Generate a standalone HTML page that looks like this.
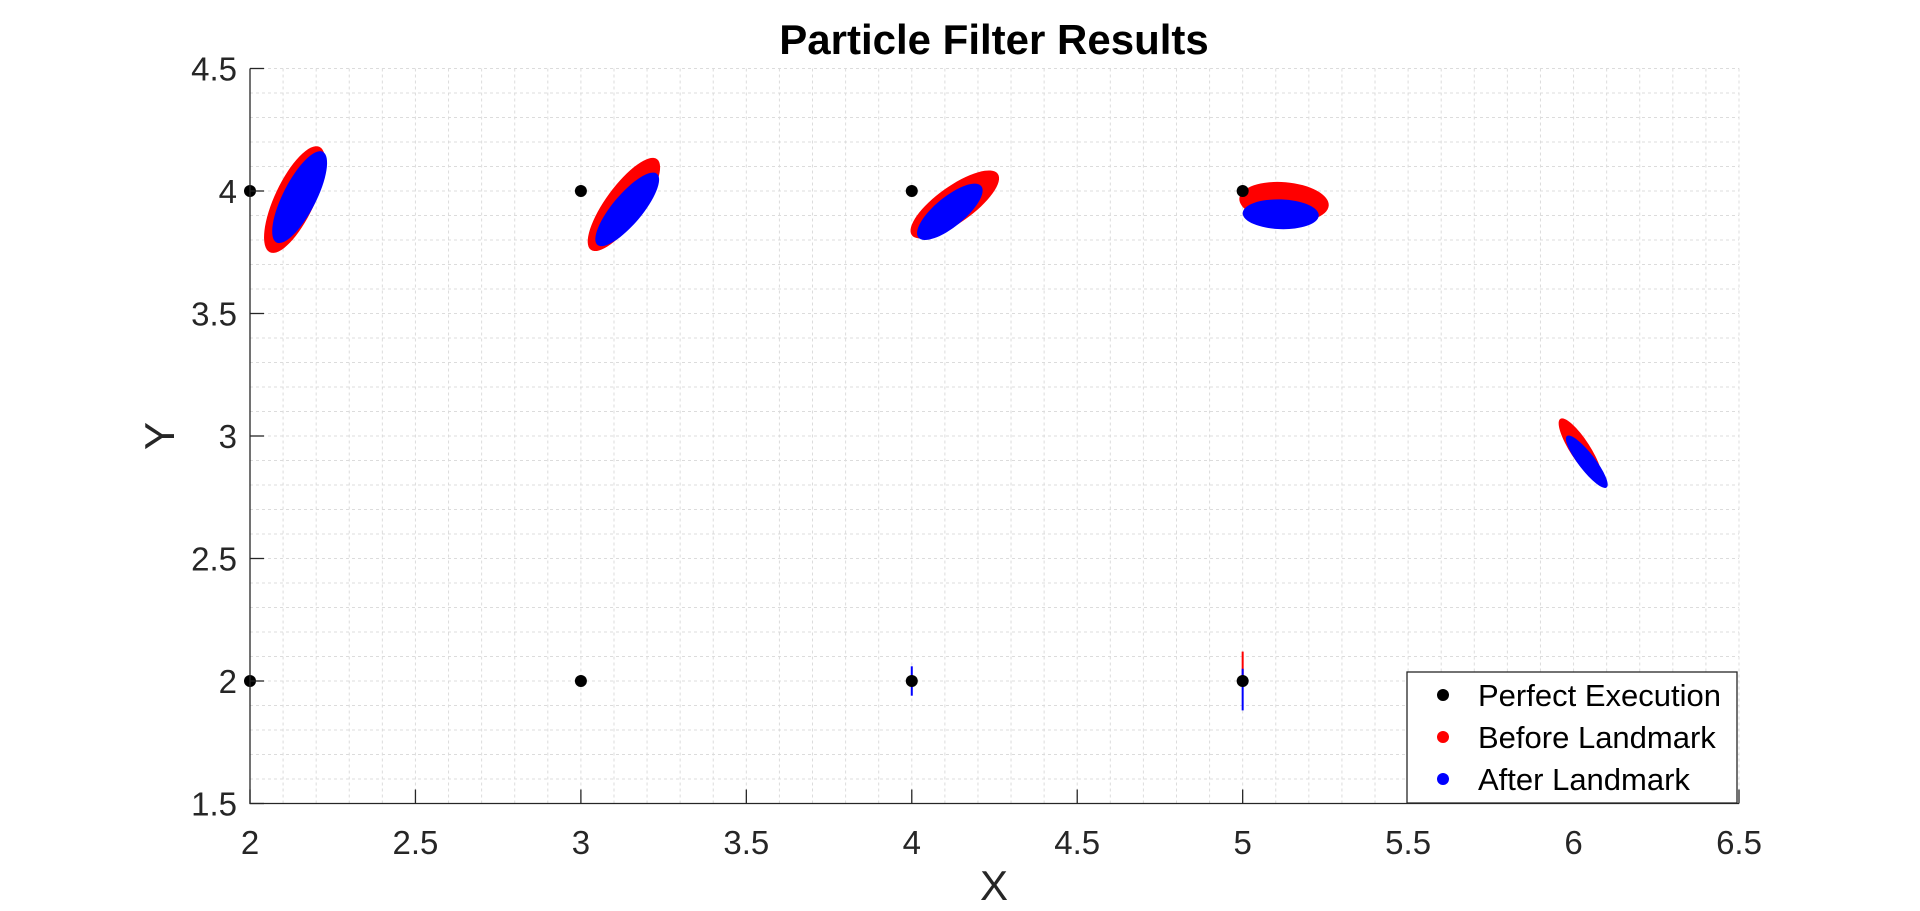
<!DOCTYPE html>
<html><head><meta charset="utf-8"><style>
html,body{margin:0;padding:0;background:#fff;}
svg{display:block;font-family:"Liberation Sans",Arial,sans-serif;}
</style></head><body>
<svg id="chart" width="1920" height="911" viewBox="0 0 1920 911">
<text x="994" y="54" text-anchor="middle" font-size="42" font-weight="bold" fill="#000">Particle Filter Results</text>
<g id="grid"></g>
<g id="marks"></g>
<g id="axes"></g>
<text x="994" y="900" text-anchor="middle" font-size="42" fill="#262626">X</text>
<text x="0" y="0" transform="translate(174,436) rotate(-90)" text-anchor="middle" font-size="42" fill="#262626">Y</text>
<g>
<rect x="1407" y="672" width="330" height="131" fill="#fff" stroke="#262626" stroke-width="1.3"/>
<g><circle cx="1443" cy="695" r="6" fill="#000"/><text x="1478" y="706" font-size="31" fill="#000">Perfect Execution</text></g>
<g><circle cx="1443" cy="737" r="6" fill="#f00"/><text x="1478" y="748" font-size="31" fill="#000">Before Landmark</text></g>
<g><circle cx="1443" cy="779" r="6" fill="#00f"/><text x="1478" y="790" font-size="31" fill="#000">After Landmark</text></g>
</g>
</svg>
<script>
const xTicks=[2,2.5,3,3.5,4,4.5,5,5.5,6,6.5];
const yTicks=[1.5,2,2.5,3,3.5,4,4.5];
const perfectX=[2,3,4,5,2,3,4,5];
const perfectY=[4,4,4,4,2,2,2,2];
// clusters: endpoints of major axis (data units) and perpendicular half-width (x data units)
const redX1=[2.06,3.03,4.00,4.99,5.96];
const redY1=[3.75,3.76,3.82,3.97,3.07];
const redX2=[2.21,3.23,4.26,5.26,6.08];
const redY2=[4.18,4.13,4.07,3.94,2.82];
const redW=[0.06,0.055,0.055,0.06,0.03];
const blueX1=[2.08,3.05,4.02,5.00,5.98];
const blueY1=[3.79,3.78,3.81,3.91,3.00];
const blueX2=[2.22,3.23,4.21,5.23,6.10];
const blueY2=[4.16,4.07,4.02,3.90,2.79];
const blueW=[0.05,0.045,0.045,0.045,0.025];
// thin vertical spreads at landmark-free points
const lineX=[4,5,5];
const lineY1=[1.94,2.00,1.88];
const lineY2=[2.06,2.12,2.05];
const lineColor=['#00f','#f00','#00f'];

const L=250,R=1739,T=68.5,B=803.5,xmin=2,xmax=6.5,ymin=1.5,ymax=4.5;
const sx=v=>L+(v-xmin)/(xmax-xmin)*(R-L);
const sy=v=>B-(v-ymin)/(ymax-ymin)*(B-T);
const NS='http://www.w3.org/2000/svg';
function mk(tag,attrs,parent){const e=document.createElementNS(NS,tag);for(const k in attrs)e.setAttribute(k,attrs[k]);parent.appendChild(e);return e;}
const grid=document.getElementById('grid'),marks=document.getElementById('marks'),axes=document.getElementById('axes');
for(let i=0;i<=45;i++){const v=xmin+i*0.1;if(i===0)continue;
 const g=mk('line',{x1:sx(v),x2:sx(v),y1:T,y2:B,stroke:'#dcdcdc','stroke-width':1,'stroke-dasharray':'3,3'},grid);
 
 }
for(let i=0;i<30;i++){const v=ymin+i*0.1+0.1;
 const g=mk('line',{x1:L,x2:R,y1:sy(v),y2:sy(v),stroke:'#dcdcdc','stroke-width':1,'stroke-dasharray':'3,3'},grid);
 
 }
function ell(x1,y1,x2,y2,w,color,name){
 const px1=sx(x1),py1=sy(y1),px2=sx(x2),py2=sy(y2);
 const cx=(px1+px2)/2,cy=(py1+py2)/2,rx=Math.hypot(px2-px1,py2-py1)/2,ry=w*(R-L)/(xmax-xmin)/2;
 const ang=Math.atan2(py2-py1,px2-px1)*180/Math.PI;
 const e=mk('ellipse',{cx:cx,cy:cy,rx:rx,ry:ry,fill:color,transform:`rotate(${ang} ${cx} ${cy})`},marks);
 
 }
redX1.forEach((_,i)=>ell(redX1[i],redY1[i],redX2[i],redY2[i],redW[i]*2,'#f00','before-cluster'));
blueX1.forEach((_,i)=>ell(blueX1[i],blueY1[i],blueX2[i],blueY2[i],blueW[i]*2,'#00f','after-cluster'));
lineX.forEach((x,i)=>{const l=mk('line',{x1:sx(x),x2:sx(x),y1:sy(lineY1[i]),y2:sy(lineY2[i]),stroke:lineColor[i],'stroke-width':2},marks);
 
 });
perfectX.forEach((x,i)=>{const c=mk('circle',{cx:sx(x),cy:sy(perfectY[i]),r:6,fill:'#000'},marks);
 
 });
const ax=mk('path',{d:`M${L},${T}V${B}H${R}`,fill:'none',stroke:'#262626','stroke-width':1.3},axes);


xTicks.forEach(v=>{mk('line',{x1:sx(v),x2:sx(v),y1:B,y2:B-14,stroke:'#262626','stroke-width':1.3},axes);
 const t=mk('text',{x:sx(v),y:854,'text-anchor':'middle','font-size':33,fill:'#262626'},axes);t.textContent=v;
 
 });
yTicks.forEach(v=>{mk('line',{x1:L,x2:L+14,y1:sy(v),y2:sy(v),stroke:'#262626','stroke-width':1.3},axes);
 const t=mk('text',{x:237,y:sy(v)+12,'text-anchor':'end','font-size':33,fill:'#262626'},axes);t.textContent=v;
 
 });
</script>
</body></html>
